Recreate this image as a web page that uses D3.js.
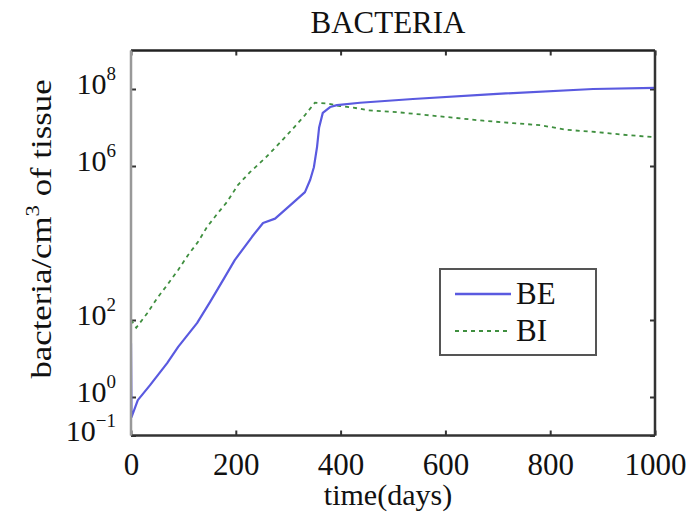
<!DOCTYPE html>
<html>
<head>
<meta charset="utf-8">
<script src="https://cdn.jsdelivr.net/npm/d3@7/dist/d3.min.js"></script>
<style>
  html, body { margin: 0; padding: 0; background: #ffffff; }
  svg text { font-family: "Liberation Serif", "DejaVu Serif", serif; fill: #111; }
</style>
</head>
<body>
<svg id="chart" width="699" height="519"></svg>
<script>
// BE curve (solid blue)
var beDays   = [0, 1, 13, 36, 69, 90, 126, 151, 179, 198, 231, 252, 275, 309, 332, 342, 349, 355, 359, 366, 380, 393, 437, 538, 691, 882, 1000];
var beValues = [25, 0.3, 0.83, 2.0, 7.6, 20, 83, 295, 1.3e3, 3.6e3, 1.45e4, 3.3e4, 4.3e4, 1.1e5, 2.1e5, 4.4e5, 9.3e5, 3.1e6, 1.0e7, 2.4e7, 3.4e7, 3.8e7, 4.4e7, 5.5e7, 7.4e7, 1.0e8, 1.07e8];

// BI curve (dashed green)
var biDays   = [0, 10, 31, 50, 69, 90, 109, 128, 145, 164, 183, 204, 227, 256, 284, 307, 332, 351, 374, 399, 424, 452, 508, 565, 615, 672, 729, 781, 832, 889, 939, 1000];
var biValues = [100, 63, 150, 370, 810, 2.0e3, 4.9e3, 1.07e4, 2.6e4, 5.6e4, 1.15e5, 3.2e5, 6.9e5, 1.6e6, 4.0e6, 8.7e6, 2.1e7, 4.4e7, 4.2e7, 3.6e7, 3.3e7, 2.8e7, 2.5e7, 2.1e7, 1.8e7, 1.5e7, 1.3e7, 1.15e7, 8.7e6, 7.6e6, 6.5e6, 5.6e6];

var xTicks = [0, 200, 400, 600, 800, 1000];
var yTickExp = [-1, 0, 2, 6, 8];
var seriesNames = ["BE", "BI"];

var svg = d3.select("#chart");

// plot box (note: "top" is reserved on window, so use other names)
var plotL = 131, plotR = 655, plotT = 50.5, plotB = 435.5;

var x = d3.scaleLinear().domain([0, 1000]).range([plotL, plotR]);
var y = d3.scaleLog().domain([1e-1, 1e9]).range([plotB, plotT]);

// ticks (inward, mirrored on all sides)
var xAxisB = d3.axisBottom(x).tickValues(xTicks).tickSizeInner(-5).tickSizeOuter(0).tickPadding(17).tickFormat(d3.format("d"));
var xAxisT = d3.axisTop(x).tickValues(xTicks).tickSizeInner(-5).tickSizeOuter(0).tickFormat("");
var yVals = yTickExp.map(function(e){ return Math.pow(10, e); });
var yAxisL = d3.axisLeft(y).tickValues(yVals).tickSizeInner(-5).tickSizeOuter(0).tickFormat("");
var yAxisR = d3.axisRight(y).tickValues(yVals).tickSizeInner(-5).tickSizeOuter(0).tickFormat("");

function styleAxis(g){
  g.select(".domain").remove();
  g.selectAll(".tick line").attr("stroke", "#333").attr("stroke-width", 2);
}

svg.append("g").attr("transform", "translate(0," + plotB + ")").call(xAxisB).call(styleAxis)
  .selectAll("text").attr("font-size", 31).attr("font-family", "Liberation Serif").attr("fill", "#111");
svg.append("g").attr("transform", "translate(0," + plotT + ")").call(xAxisT).call(styleAxis);
svg.append("g").attr("transform", "translate(" + plotL + ",0)").call(yAxisL).call(styleAxis);
svg.append("g").attr("transform", "translate(" + plotR + ",0)").call(yAxisR).call(styleAxis);

// y tick labels as 10^n
yTickExp.forEach(function(e){
  var t = svg.append("text")
    .attr("x", 116)
    .attr("y", y(Math.pow(10, e)) + 5)
    .attr("text-anchor", "end")
    .attr("font-size", 30);
  t.append("tspan").text("10");
  t.append("tspan").attr("dy", -14).attr("font-size", 19).text(e < 0 ? "\u2212" + (-e) : e);
});

// lines
svg.append("clipPath").attr("id", "plotclip")
  .append("rect").attr("x", plotL).attr("y", plotT).attr("width", plotR - plotL).attr("height", plotB - plotT);

var line = d3.line()
  .x(function(d){ return x(d[0]); })
  .y(function(d){ return y(d[1]); });

svg.append("path")
  .datum(d3.zip(biDays, biValues))
  .attr("d", line)
  .attr("fill", "none")
  .attr("stroke", "#3f8f3f")
  .attr("stroke-width", 1.8)
  .attr("stroke-dasharray", "4,4")
  .attr("clip-path", "url(#plotclip)");

svg.append("path")
  .datum(d3.zip(beDays, beValues))
  .attr("d", line)
  .attr("fill", "none")
  .attr("stroke", "#5a5ae0")
  .attr("stroke-width", 2.2)
  .attr("stroke-linejoin", "round")
  .attr("clip-path", "url(#plotclip)");

// frame
svg.append("line").attr("x1", plotL).attr("x2", plotR).attr("y1", plotT).attr("y2", plotT).attr("stroke", "#222").attr("stroke-width", 2.5);
svg.append("line").attr("x1", plotL).attr("x2", plotR).attr("y1", plotB).attr("y2", plotB).attr("stroke", "#333").attr("stroke-width", 2.5);
svg.append("line").attr("x1", plotR).attr("x2", plotR).attr("y1", plotT).attr("y2", plotB).attr("stroke", "#333").attr("stroke-width", 2.5);
svg.append("line").attr("x1", plotL).attr("x2", plotL).attr("y1", plotT).attr("y2", plotB).attr("stroke", "#999").attr("stroke-width", 2.5);

// title and axis labels
svg.append("text").attr("x", 388).attr("y", 33).attr("text-anchor", "middle").attr("font-size", 31).text("BACTERIA");
svg.append("text").attr("x", 388).attr("y", 505).attr("text-anchor", "middle").attr("font-size", 30).text("time(days)");

// rotated label, stretched along its length like the reference
var yl = svg.append("text")
  .attr("transform", "translate(51,229) rotate(-90) scale(1.2,1)")
  .attr("text-anchor", "middle")
  .attr("font-size", 29);
yl.append("tspan").text("bacteria/cm");
yl.append("tspan").attr("dy", -12).attr("font-size", 19).text("3");
yl.append("tspan").attr("dy", 12).text(" of tissue");

// legend
var lg = svg.append("g");
lg.append("rect").attr("x", 440).attr("y", 269).attr("width", 156).attr("height", 86)
  .attr("fill", "#fff").attr("stroke", "#555").attr("stroke-width", 2);
var legendStyles = [
  {color: "#5a5ae0", dash: null, width: 2.5},
  {color: "#3f8f3f", dash: "4,4", width: 1.8}
];
seriesNames.forEach(function(name, i){
  var ly = 294 + i * 37;
  lg.append("line").attr("x1", 455).attr("x2", 511).attr("y1", ly).attr("y2", ly)
    .attr("stroke", legendStyles[i].color).attr("stroke-width", legendStyles[i].width)
    .attr("stroke-dasharray", legendStyles[i].dash);
  lg.append("text").attr("x", 516).attr("y", ly + 10).attr("font-size", 31).text(name);
});
</script>
</body>
</html>
